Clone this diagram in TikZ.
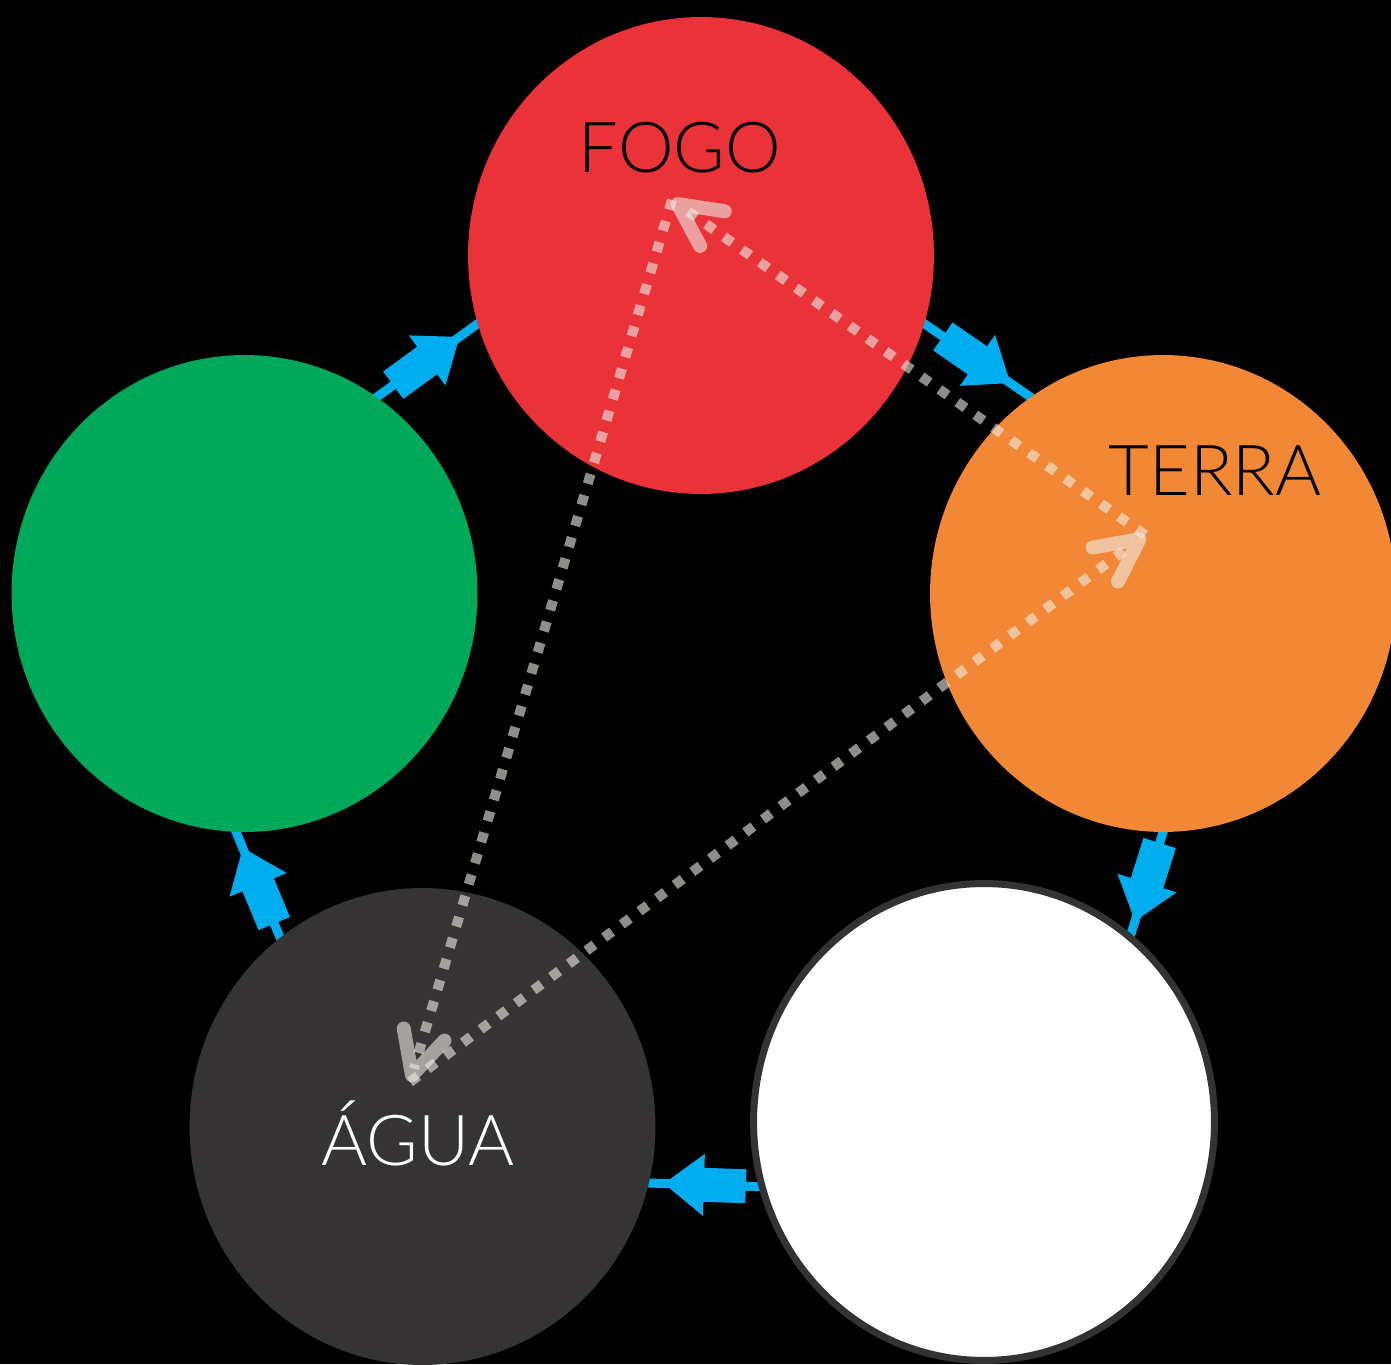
\documentclass[tikz,border=0pt]{standalone}
\usepackage{fontspec}
\setmainfont{Lato Light}
\usetikzlibrary{arrows.meta, shapes.geometric, decorations.markings}

\definecolor{fogored}{HTML}{EA3239}
\definecolor{terraorange}{HTML}{F28835}
\definecolor{woodgreen}{HTML}{00A85A}
\definecolor{aguagray}{HTML}{353334}
\definecolor{rimgray}{HTML}{333333}
\definecolor{flowblue}{HTML}{00AEEF}
\definecolor{dotgray}{HTML}{EDECE6}

\pgfdeclarelayer{bg}
\pgfdeclarelayer{links}
\pgfsetlayers{bg,links,main}

\tikzset{
  element/.style={ellipse, inner sep=0pt, minimum width=9.32cm, minimum height=9.54cm},
  flow/.style={draw=flowblue, line width=0.18cm, shorten <=-0.3cm, shorten >=-0.3cm,
    postaction={decorate},
    decoration={markings, mark=at position 0.5 with {
      \fill[flowblue, shorten <=0pt, shorten >=0pt]
        (-42,-17) -- (0,-17) -- (0,-31) -- (40,0) -- (0,31) -- (0,17) -- (-42,17) -- cycle;}}},
  ctrl/.style={draw=dotgray, draw opacity=0.6, line width=0.2cm,
    dash pattern=on 0.2cm off 0.24cm,
    -{Straight Barb[length=0.85cm, width=0.85cm, line width=0pt 1.4, round]}},
  elemlabel/.style={anchor=base, inner sep=0pt, font=\fontsize{40}{42}\selectfont}
}

\begin{document}
\begin{tikzpicture}[x=0.02cm, y=-0.02cm]
  \useasboundingbox (0,0) rectangle (1391,1364);
  \begin{pgfonlayer}{bg}
    \fill[black] (0,0) rectangle (1391,1364);
  \end{pgfonlayer}

  % the five elements
  \node[element, fill=fogored] (fogo) at (701,255.5) {};
  \node[element, fill=woodgreen] (madeira) at (244.5,593.5) {};
  \node[element, fill=terraorange] (terra) at (1163,593.5) {};
  \node[element, fill=white, draw=rimgray, line width=0.14cm,
    minimum width=9.22cm, minimum height=9.54cm] (metal) at (984,1122) {};
  \node[element, fill=aguagray] (agua) at (422.5,1126.5) {};

  \node[elemlabel] (fogo-txt) at (680,173) {FOGO};
  \node[elemlabel] (terra-txt) at (1215,495) {TERRA};
  \node[elemlabel, text=white] (agua-txt) at (418,1165) {ÁGUA};

  % generating cycle
  \begin{pgfonlayer}{links}
    \draw[flow] (fogo.-17) -- (terra.124);
    \draw[flow] (terra.-90) -- (metal.52);
    \draw[flow] (metal.-164) -- (agua.-14.7);
    \draw[flow] (agua.127) -- (madeira.-92);
    \draw[flow] (madeira.56) -- (fogo.197);
  \end{pgfonlayer}

  % control cycle
  \coordinate (fogo-pt) at (672,200);
  \coordinate (terra-pt) at (1145,535);
  \coordinate (agua-pt) at (410,1082);
  \draw[ctrl] (fogo-pt) -- (agua-pt);
  \draw[ctrl] (agua-pt) -- (terra-pt);
  \draw[ctrl] (terra-pt) -- (fogo-pt);
\end{tikzpicture}
\end{document}
